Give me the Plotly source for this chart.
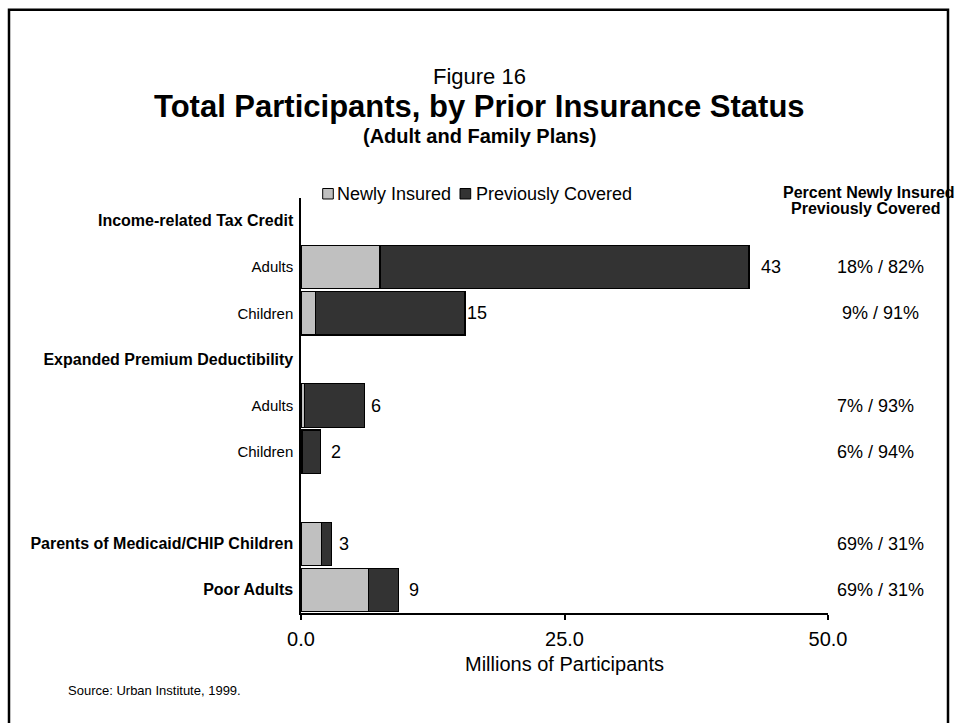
import plotly.graph_objects as go

# ---------------- data ----------------
row_labels = ["Income-related Tax Credit", "Adults", "Children",
              "Expanded Premium Deductibility", "Adults", "Children", "",
              "Parents of Medicaid/CHIP Children", "Poor Adults"]
row_is_header = [True, False, False, True, False, False, False, True, True]

bar_rows = [1, 2, 4, 5, 7, 8]
newly_insured = [7.5, 1.35, 0.3, 0.12, 1.96, 6.39]
previously_covered = [35.0, 14.2, 5.75, 1.75, 0.95, 2.84]
total_labels = ["43", "15", "6", "2", "3", "9"]
percent_labels = ["18% / 82%", "9% / 91%", "7% / 93%", "6% / 94%", "69% / 31%", "69% / 31%"]

x_ticks = [0, 25, 50]
x_ticktext = ["0.0", "25.0", "50.0"]

# ---------------- layout helpers ----------------
W, H = 956, 723
ML, MR, MT, MB = 301, 128, 197.5, 110
PW = W - ML - MR
PH = H - MT - MB
FONT = "Arial, Liberation Sans, sans-serif"
C_NEW = "#C0C0C0"
C_PREV = "#333333"


def px(x):
    return (x - ML) / PW


def py(y):
    return (H - MB - y) / PH


fig = go.Figure()
fig.add_trace(go.Bar(y=bar_rows, x=newly_insured, orientation="h", name="Newly Insured",
                     marker=dict(color=C_NEW, line=dict(color="#000000", width=1.2)),
                     showlegend=False))
fig.add_trace(go.Bar(y=bar_rows, x=previously_covered, orientation="h", name="Previously Covered",
                     marker=dict(color=C_PREV, line=dict(color="#000000", width=1.2)),
                     showlegend=False))

ticktext = []
for lab, hd in zip(row_labels, row_is_header):
    if hd:
        ticktext.append("<b><span style='font-size:16px'>" + lab + "</span></b>")
    else:
        ticktext.append(lab)


def note(text, x, y, size, xanchor="center", xref="paper", yref="paper", bold=False, xshift=0):
    return dict(text=("<b>%s</b>" % text) if bold else text, x=x, y=y, xref=xref, yref=yref,
                xanchor=xanchor, yanchor="middle", xshift=xshift, showarrow=False, borderpad=0,
                font=dict(size=size, family=FONT, color="#000"))


annotations = []
# titles
annotations.append(note("Figure 16", px(479), py(76), 22))
annotations.append(note("Total Participants, by Prior Insurance Status", px(479), py(106), 31, bold=True))
annotations.append(note("(Adult and Family Plans)", px(479), py(135), 20, bold=True))
# legend text
annotations.append(note("Newly Insured", px(336), py(193), 18, xanchor="left"))
annotations.append(note("Previously Covered", px(475), py(193), 18, xanchor="left"))
# percent header
annotations.append(note("Percent Newly Insured", px(869), py(192), 16, bold=True))
annotations.append(note("Previously Covered", px(865), py(208.5), 16, bold=True))
# value labels and percentages
label_gap = [11, 1, 5, 9, 6, 10]
pct_shift = [0, 5, 0, 0, 0, 0]
for i, r in enumerate(bar_rows):
    tot = newly_insured[i] + previously_covered[i]
    annotations.append(note(total_labels[i], tot, r, 18, xanchor="left", xref="x", yref="y",
                            xshift=label_gap[i]))
    annotations.append(note(percent_labels[i], px(836), r, 18, xanchor="left", yref="y",
                            xshift=pct_shift[i]))
# axis title
annotations.append(note("Millions of Participants", 0.5, py(664), 20))
# source
annotations.append(note("Source: Urban Institute, 1999.", px(67), py(691), 13, xanchor="left"))

shapes = [
    dict(type="rect", xref="paper", yref="paper", x0=px(322.7), x1=px(333.3), y0=py(198.5), y1=py(188),
         fillcolor=C_NEW, line=dict(color="#000", width=1)),
    dict(type="rect", xref="paper", yref="paper", x0=px(460), x1=px(470.7), y0=py(198.5), y1=py(188),
         fillcolor=C_PREV, line=dict(color="#000", width=1)),
    dict(type="rect", xref="paper", yref="paper", x0=px(9), x1=px(948), y0=py(735), y1=py(9),
         fillcolor="rgba(0,0,0,0)", line=dict(color="#000", width=2.5)),
]

fig.update_layout(
    width=W, height=H,
    margin=dict(l=ML, r=MR, t=MT, b=MB, pad=0),
    paper_bgcolor="white", plot_bgcolor="white",
    barmode="stack", bargap=0.06,
    font=dict(family=FONT, color="#000"),
    showlegend=False,
    annotations=annotations,
    shapes=shapes,
    xaxis=dict(range=[0, 50], tickvals=x_ticks, ticktext=x_ticktext, ticks="outside", ticklen=5,
               tickwidth=1.5, tickcolor="#000", showline=True, linecolor="#000", linewidth=1.5,
               showgrid=False, zeroline=False, tickfont=dict(size=20, family=FONT, color="#000"),
               ticklabelstandoff=2, fixedrange=True),
    yaxis=dict(range=[8.5, -0.5], tickvals=list(range(len(row_labels))), ticktext=ticktext,
               ticks="", showline=True, linecolor="#000", linewidth=1.5, showgrid=False,
               zeroline=False, tickfont=dict(size=15, family=FONT, color="#000"),
               ticklabelstandoff=3, fixedrange=True),
)

fig.write_html("out.html")
